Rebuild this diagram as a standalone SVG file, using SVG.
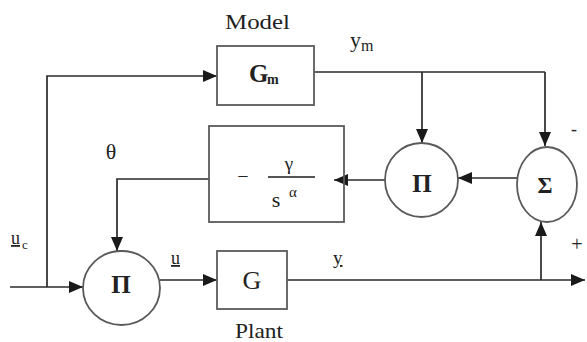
<svg xmlns="http://www.w3.org/2000/svg" width="587" height="342" viewBox="0 0 587 342">
<defs>
<marker id="ah" markerWidth="14" markerHeight="12" refX="14" refY="6" orient="auto" markerUnits="userSpaceOnUse">
<path d="M0,0 L14,6 L0,12 Z" fill="#1a1a1a"/>
</marker>
<style>
.blk{fill:#fff;stroke:#5a5a5a;stroke-width:1.8}
.ln{fill:none;stroke:#2a2a2a;stroke-width:1.7}
.arr{fill:none;stroke:#2a2a2a;stroke-width:1.7;marker-end:url(#ah)}
text{fill:#222;font-family:"Liberation Serif","Times New Roman",serif}
.b{font-weight:bold}
.s25{font-size:25px}
.s14{font-size:14px}
.s16{font-size:16px}
.s22{font-size:22px}
.s20{font-size:20px}
.s19{font-size:19px}
.s18{font-size:18px}
.s15{font-size:15px}
.s13{font-size:13px}
.s23{font-size:23px}
.s26{font-size:26px}
.s21{font-size:21px}
</style>
</defs>
<rect width="587" height="342" fill="#fff"/>
<g id="connectors">
<path class="arr" d="M47,287 L47,76 L217,76"/>
<path class="arr" d="M10,287 L83,287"/>
<path class="arr" d="M209,179 L117,179 L117,251"/>
<path class="arr" d="M160,280 L217,280"/>
<path class="arr" d="M287,280 L585,280"/>
<path class="arr" d="M541,280 L541,222"/>
<path class="ln" d="M314,72 L545,72"/>
<path class="arr" d="M422,72 L422,143"/>
<path class="arr" d="M545,72 L545,146"/>
<path class="arr" d="M517,178 L458,178"/>
<path class="arr" d="M385,180 L334,180"/>
</g>
<g id="model">
<rect class="blk" x="217" y="46" width="97" height="59"/>
<text class="b s25" x="249" y="82">G</text>
<text class="b s14" x="267" y="84">m</text>
<text class="s22" x="225" y="29" textLength="65" lengthAdjust="spacingAndGlyphs">Model</text>
</g>
<g id="gain">
<rect class="blk" x="209" y="126" width="135" height="96" style="fill:none"/>
<text class="s20" x="243" y="183" text-anchor="middle">−</text>
<text class="s19" x="289" y="170" text-anchor="middle">γ</text>
<line x1="268" y1="177" x2="315" y2="177" stroke="#555" stroke-width="1.8"/>
<text class="s22" x="276" y="207" text-anchor="middle">s</text>
<text class="s15" x="293" y="197" text-anchor="middle">α</text>
</g>
<g id="mult2">
<ellipse class="blk" cx="421.5" cy="180" rx="36.5" ry="37"/>
<text class="b s25" x="422" y="192" text-anchor="middle">Π</text>
</g>
<g id="sum">
<ellipse class="blk" cx="547" cy="184.5" rx="30" ry="37.5"/>
<text class="b s23" x="545" y="193" text-anchor="middle">Σ</text>
<text class="s18" x="574" y="135" text-anchor="middle">-</text>
<text class="s20" x="577" y="251" text-anchor="middle">+</text>
</g>
<g id="mult1">
<ellipse class="blk" cx="121.5" cy="288" rx="38.5" ry="37"/>
<text class="b s25" x="121" y="293" text-anchor="middle">Π</text>
</g>
<g id="plant">
<rect class="blk" x="217" y="251" width="70" height="58"/>
<text class="s26" x="252" y="289" text-anchor="middle">G</text>
<text class="s21" x="235" y="338" textLength="48" lengthAdjust="spacingAndGlyphs">Plant</text>
</g>
<g id="labels">
<text class="s22" x="111" y="159" text-anchor="middle">θ</text>
<text class="s18" x="11" y="244" text-decoration="underline">u</text>
<text class="s13" x="22" y="249">c</text>
<text class="s18" x="171" y="264" text-decoration="underline">u</text>
<text class="s19" x="333" y="264" text-decoration="underline">y</text>
<text class="s22" x="350" y="47">y</text>
<text class="s16" x="361" y="51">m</text>
</g>
</svg>
